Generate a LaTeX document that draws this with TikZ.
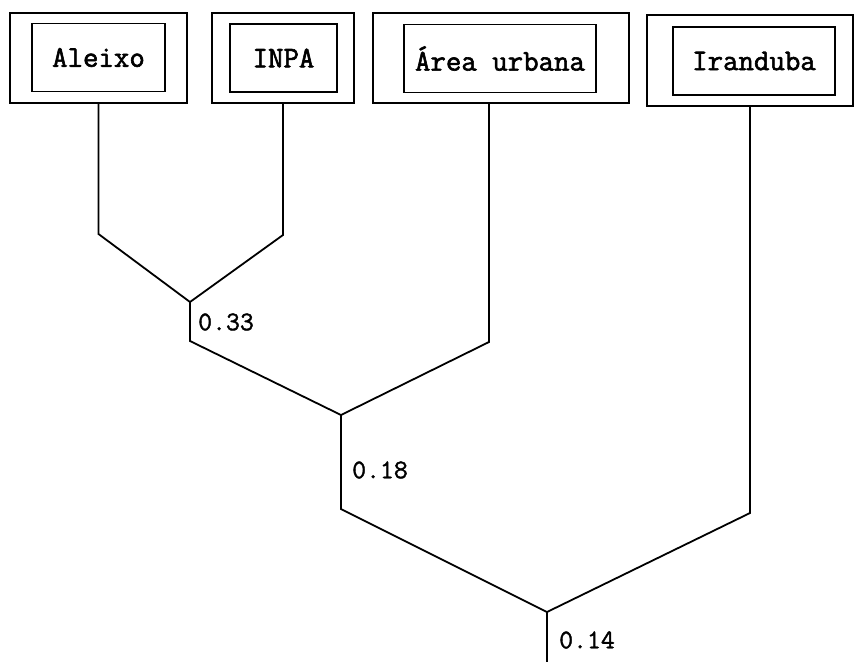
\documentclass[tikz,border=0pt]{standalone}
\usepackage{fontspec}
\newfontfamily\courlab[FakeBold=2]{Latin Modern Mono}
\newfontfamily\cournum[FakeBold=1.4]{Latin Modern Mono}
\begin{document}
\begin{tikzpicture}[x=1pt,y=-1pt,
  outerbox/.style={draw, line width=1.1pt, inner sep=0pt, minimum width=#1},
  innerbox/.style={draw, line width=1.1pt, inner sep=0pt, minimum width=#1, minimum height=68pt, font=\courlab\fontsize{30}{32}\selectfont},
  branch/.style={line width=1.8pt, line join=miter},
  dist/.style={anchor=west, inner sep=0pt, font=\cournum\fontsize{27}{29}\selectfont}]
\useasboundingbox[fill=white] (0,0) rectangle (857,662);
% outer boxes
\node[outerbox=177pt, minimum height=90pt] (aleixoO) at (98.5,58) {};
\node[outerbox=142pt, minimum height=90pt] (inpaO) at (283,58) {};
\node[outerbox=256pt, minimum height=90pt] (areaO) at (501,58) {};
\node[outerbox=206pt, minimum height=91pt] (iranO) at (750,60.5) {};
% inner boxes with labels
\node[innerbox=133pt] (aleixo) at (98.5,57.5) {Aleixo};
\node[innerbox=107pt] (inpa) at (283.5,58) {INPA};
\node[innerbox=192pt] (area) at (500,58.5) {Área urbana};
\node[innerbox=162pt] (iran) at (754,61) {Iranduba};
% tree coordinates
\coordinate (a1) at (98.5,234);
\coordinate (b1) at (283,235);
\coordinate (j1) at (190,302);
\coordinate (c1) at (190,341);
\coordinate (u1) at (489,342);
\coordinate (j2) at (341,415);
\coordinate (c2) at (341,509);
\coordinate (r1) at (750,513);
\coordinate (j3) at (547,612);
\coordinate (root) at (547,662);
% branches
\draw[branch] (aleixoO.south) -- (a1) -- (j1);
\draw[branch] (inpaO.south) -- (b1) -- (j1);
\draw[branch] (j1) -- (c1) -- (j2);
\draw[branch] (u1 |- areaO.south) -- (u1) -- (j2);
\draw[branch] (j2) -- (c2) -- (j3);
\draw[branch] (iranO.south) -- (r1) -- (j3);
\draw[branch] (j3) -- (root);
% distances
\node[dist] (d1) at (198,322) {0.33};
\node[dist] (d2) at (352,470) {0.18};
\node[dist] (d3) at (559,640) {0.14};
\end{tikzpicture}
\end{document}
